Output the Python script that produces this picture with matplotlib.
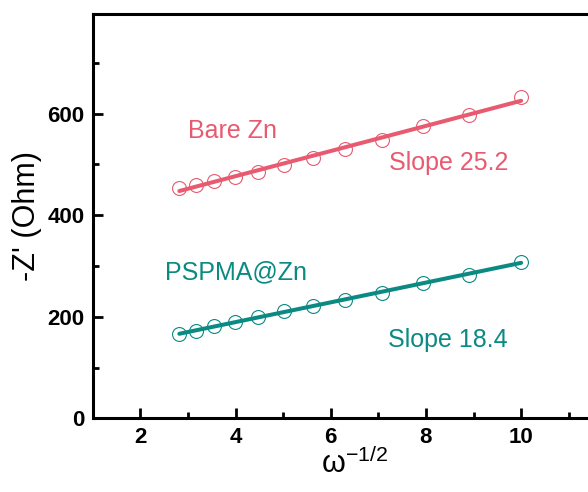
import numpy as np
import matplotlib
matplotlib.use('Agg')
from matplotlib import pyplot as plt

plt.rcParams['font.family'] = ['Liberation Sans', 'DejaVu Sans']
plt.rcParams['mathtext.fontset'] = 'custom'
plt.rcParams['mathtext.rm'] = 'Liberation Sans'

x = [2.82, 3.16, 3.55, 3.98, 4.47, 5.01, 5.62, 6.31, 7.08, 7.94, 8.91, 10.0]
bare_zn = [453, 460, 468, 476, 485, 498, 513, 530, 547, 575, 598, 633]
pspma_zn = [166, 172, 181, 190, 199, 211, 221, 233, 247, 267, 283, 308]

pink = '#E85A70'
teal = '#0A8A82'

fig = plt.figure(figsize=(5.88, 4.92), dpi=100)
ax = fig.add_axes([0.1577, 0.1498, 0.8905, 0.8218])

for y, c in [(bare_zn, pink), (pspma_zn, teal)]:
    k, b = np.polyfit(x, y, 1)
    xf = np.array([x[0], x[-1]])
    ax.plot(xf, k * xf + b, color=c, lw=2.9, solid_capstyle='round')
    ax.plot(x, y, 'o', mfc='none', mec=c, ms=10, mew=0.8)

ax.text(3.93, 565, 'Bare Zn', color=pink, fontsize=18, ha='center', va='center')
ax.text(8.47, 503, 'Slope 25.2', color=pink, fontsize=18, ha='center', va='center')
ax.text(4.0, 288, 'PSPMA@Zn', color=teal, fontsize=18, ha='center', va='center')
ax.text(8.47, 154, 'Slope 18.4', color=teal, fontsize=18, ha='center', va='center')

ax.set_xlim(1, 12)
ax.set_ylim(0, 796)
ax.set_xticks([2, 4, 6, 8, 10])
ax.set_xticks([3, 5, 7, 9, 11], minor=True)
ax.set_yticks([0, 200, 400, 600])
ax.set_yticks([100, 300, 500, 700], minor=True)
ax.tick_params(which='major', direction='in', length=7, width=2, labelsize=16, pad=6)
ax.tick_params(which='minor', direction='in', length=4, width=2)
for lab in ax.get_xticklabels() + ax.get_yticklabels():
    lab.set_fontweight('bold')
for s in ax.spines.values():
    s.set_linewidth(2.2)

ax.set_ylabel("-Z' (Ohm)", fontsize=22, labelpad=4)
ax.set_xlabel('ω$^{-1/2}$', fontsize=22, labelpad=0)

fig.savefig('out.png', dpi=100)
